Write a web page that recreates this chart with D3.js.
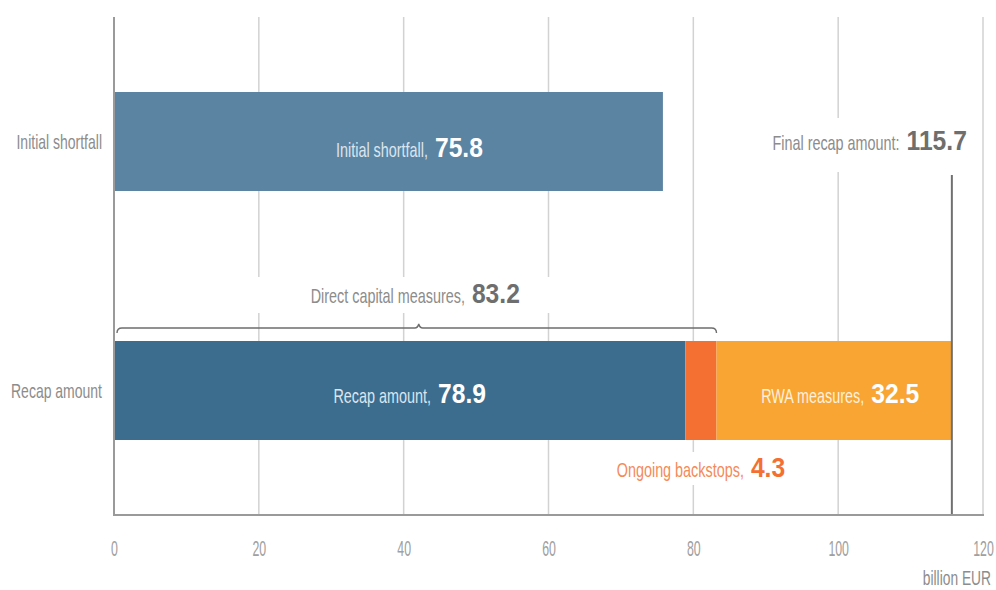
<!DOCTYPE html>
<html>
<head>
<meta charset="utf-8">
<script src="https://cdn.jsdelivr.net/npm/d3@7"></script>
<style>
  body { margin: 0; background: #fff; }
  text { font-family: "Liberation Sans", Arial, sans-serif; }
</style>
</head>
<body>
<div id="chart"></div>
<script>
"use strict";

// data (billion EUR)
const categories = ["Initial shortfall", "Recap amount"];
const initialShortfall = 75.8;
const segmentNames = ["Recap amount", "Ongoing backstops", "RWA measures"];
const segmentValues = [78.9, 4.3, 32.5];
const segmentColors = ["#3c6d8f", "#f37032", "#f9a533"];
const directCapital = 83.2;
const finalRecap = 115.7;
const xTicks = [0, 20, 40, 60, 80, 100, 120];

const width = 996, height = 590;
const margin = {top: 17, right: 13, bottom: 75, left: 114};

// condensed look: squeeze glyphs horizontally
const LIGHT = 0.72, BOLD = 0.88, GAP = 7;

const svg = d3.select("#chart").append("svg")
    .attr("width", width)
    .attr("height", height);

const x = d3.scaleLinear()
    .domain([0, 120])
    .range([margin.left, width - margin.right]);

const y = d3.scaleBand()
    .domain(categories)
    .range([margin.top, height - margin.bottom])
    .paddingInner(0.6024)
    .paddingOuter(0.3012);

const bottom = height - margin.bottom;

// grid lines
svg.append("g").selectAll("line")
    .data(xTicks.slice(1))
    .enter().append("line")
    .attr("x1", d => x(d)).attr("x2", d => x(d))
    .attr("y1", margin.top).attr("y2", bottom)
    .attr("stroke", "#d2d2d2")
    .attr("stroke-width", 1.5);

// x axis tick labels
const xAxis = svg.append("g")
    .attr("transform", `translate(0,${bottom})`)
    .call(d3.axisBottom(x).tickValues(xTicks).tickSize(0).tickPadding(25));
xAxis.select(".domain").remove();
xAxis.selectAll("text")
    .attr("font-size", 22)
    .attr("fill", "#a0a0a0")
    .attr("transform", "scale(0.56,1)");

svg.append("text")
    .attr("transform", `translate(${width - 5},585) scale(0.69,1)`)
    .attr("text-anchor", "end")
    .attr("font-size", 20)
    .attr("fill", "#8c8c8c")
    .text("billion EUR");

// category labels
const yAxis = svg.append("g")
    .attr("transform", `translate(${margin.left - 12},0)`)
    .call(d3.axisLeft(y).tickSize(0).tickPadding(0));
yAxis.select(".domain").remove();
yAxis.selectAll("text")
    .attr("font-size", 20)
    .attr("fill", "#8c8c8c")
    .attr("dy", "0.35em")
    .attr("transform", `scale(0.7,1)`);

// bars
const stack = [];
let acc = 0;
segmentValues.forEach((v, i) => {
    stack.push({name: segmentNames[i], value: v, x0: acc, x1: acc + v, color: segmentColors[i]});
    acc += v;
});

svg.append("rect")
    .attr("x", x(0))
    .attr("y", y(categories[0]))
    .attr("width", x(initialShortfall) - x(0))
    .attr("height", y.bandwidth())
    .attr("fill", "#5b84a3");

svg.append("g").selectAll("rect")
    .data(stack)
    .enter().append("rect")
    .attr("x", d => x(d.x0))
    .attr("y", y(categories[1]))
    .attr("width", d => x(d.x1) - x(d.x0))
    .attr("height", y.bandwidth())
    .attr("fill", d => d.color);

// helper: light text followed by a bold number, both squeezed
function label(xp, yp, anchor, txt, num, light, dark, bg) {
    const g = svg.append("g");
    const inner = g.append("g");
    const t1 = inner.append("text")
        .attr("font-size", 20).attr("fill", light)
        .attr("transform", `scale(${LIGHT},1)`)
        .text(txt);
    const w1 = t1.node().getComputedTextLength() * LIGHT + GAP;
    const t2 = inner.append("text")
        .attr("font-size", 28).attr("font-weight", "bold").attr("fill", dark)
        .attr("transform", `translate(${w1},0) scale(${BOLD},1)`)
        .text(num);
    const w2 = t2.node().getComputedTextLength() * BOLD;
    const total = w1 + w2;
    const x0 = anchor === "middle" ? xp - total / 2 : (anchor === "end" ? xp - total : xp);
    inner.attr("transform", `translate(${x0},${yp})`);
    if (bg) {
        g.insert("rect", "g")
            .attr("x", bg[0]).attr("y", bg[1])
            .attr("width", bg[2]).attr("height", bg[3])
            .attr("fill", "#fff");
    }
    return g;
}

const yc0 = y(categories[0]) + y.bandwidth() / 2;
const yc1 = y(categories[1]) + y.bandwidth() / 2;

label(x(initialShortfall / 2) + 21, yc0 + 15, "middle", "Initial shortfall,", initialShortfall.toFixed(1), "#dbe5ee", "#ffffff");
label(x(stack[0].x1 / 2) + 10, yc1 + 12, "middle", "Recap amount,", stack[0].value.toFixed(1), "#dbe5ee", "#ffffff");
label((x(stack[2].x0) + x(stack[2].x1)) / 2 + 6, yc1 + 12, "middle", "RWA measures,", stack[2].value.toFixed(1), "#fdf0dc", "#ffffff");

// ongoing backstops label below the bar
const ob = (x(stack[1].x0) + x(stack[1].x1)) / 2;
label(ob, 477, "middle", "Ongoing backstops,", stack[1].value.toFixed(1), "#f58a58", "#f37032",
    [ob - 95, 452, 190, 33]);

// brace over direct capital measures
const bx0 = x(0) + 3, bx1 = x(directCapital), bm = (bx0 + bx1) / 2 + 2, by = 328;
svg.append("path")
    .attr("d", `M${bx0},${by + 5} Q${bx0},${by} ${bx0 + 5},${by} L${bm - 4},${by} Q${bm - 1},${by} ${bm},${by - 4}
                Q${bm + 1},${by} ${bm + 4},${by} L${bx1 - 5},${by} Q${bx1},${by} ${bx1},${by + 5}`)
    .attr("fill", "none")
    .attr("stroke", "#6e6e6e")
    .attr("stroke-width", 1.4);

const dm = x(directCapital / 2);
label(dm, 303, "middle", "Direct capital measures,", directCapital.toFixed(1), "#8c8c8c", "#6e6e6e",
    [dm - 170, 277, 340, 36]);

// final recap marker
svg.append("line")
    .attr("x1", x(finalRecap)).attr("x2", x(finalRecap))
    .attr("y1", 175).attr("y2", bottom)
    .attr("stroke", "#707070")
    .attr("stroke-width", 2);

label(x(finalRecap) + 15, 150, "end", "Final recap amount:", finalRecap.toFixed(1), "#8c8c8c", "#6e6e6e",
    [x(finalRecap) - 195, 118, 215, 54]);

// axis lines
svg.append("line")
    .attr("x1", x(0)).attr("x2", x(0))
    .attr("y1", margin.top).attr("y2", bottom + 1)
    .attr("stroke", "#9a9a9a").attr("stroke-width", 2);
svg.append("line")
    .attr("x1", x(0) - 1).attr("x2", x(120) + 1)
    .attr("y1", bottom).attr("y2", bottom)
    .attr("stroke", "#9a9a9a").attr("stroke-width", 2);
</script>
</body>
</html>
